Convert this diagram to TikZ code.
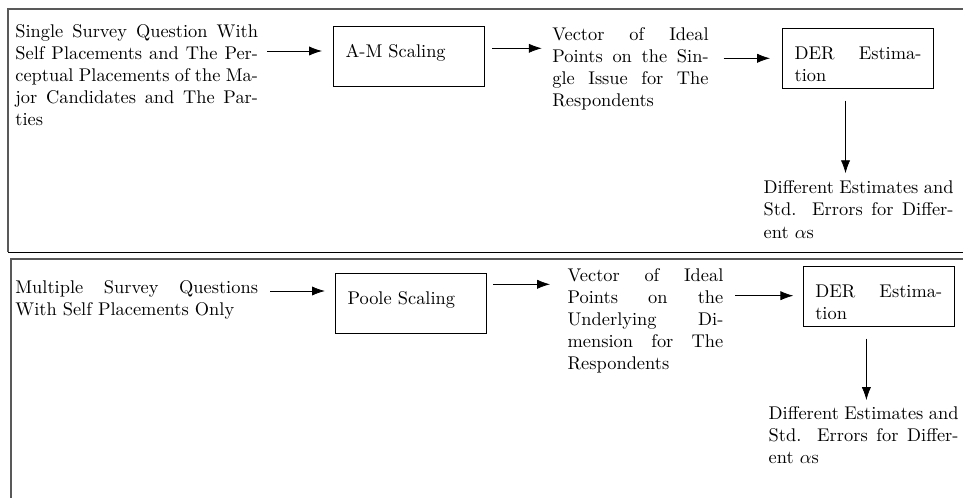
\documentclass[tikz,border=0pt]{standalone}
\usetikzlibrary{arrows.meta}
\begin{document}
\begin{tikzpicture}[x=0.544pt, y=-0.544pt,
  txt/.style={inner sep=0pt, anchor=north west, align=justify},
  procbox/.style={draw, anchor=north west, text width=69pt, inner xsep=6.65pt,
    inner ysep=0pt, text height=17pt, text depth=15.6pt, align=justify},
  arr/.style={-{Latex[length=7pt,width=5pt]}},
  panel/.style={draw=black!65, line width=1pt}]
  \useasboundingbox (0,0) rectangle (963,498);
  % panels
  \draw[panel] (975,9) -- (8,9) -- (8,252);
  \draw (8,252) -- (975,252);
  \draw[panel] (975,259) -- (11,259) -- (11,510);

  % top row
  \node[txt, text width=132pt] (lt1) at (15,24) {Single Survey Question With Self Placements and The Perceptual Placements of the Major Candidates and The Parties};
  \node[procbox] (am) at (333,26) {A-M Scaling};
  \node[txt, text width=85pt] (vec1) at (552,27.3) {Vector of Ideal Points on the Single Issue for The Respondents};
  \node[procbox] (der1) at (782,28) {DER Estimation};
  \node[txt, text width=103.3pt] (diff1) at (763.3,180.6) {Different Estimates and Std. Errors for Different $\alpha$s};

  \coordinate (r1) at (0,51);
  \coordinate (r2) at (0,48.3);
  \coordinate (r3) at (0,58.3);
  \coordinate (d1) at ([xshift=-6.8pt]der1.south);
  \draw[arr, shorten <=4.9pt, shorten >=6pt] (lt1.east |- r1) -- (am.west |- r1);
  \draw[arr, shorten <=3.8pt, shorten >=5.6pt] (am.east |- r2) -- (vec1.west |- r2);
  \draw[arr, shorten <=8pt, shorten >=6.5pt] (vec1.east |- r3) -- (der1.west |- r3);
  \draw[arr, shorten <=6.5pt, shorten >=4pt] (d1) -- (d1 |- diff1.north);

  % bottom row
  \node[txt, text width=132pt] (lt2) at (15,280.6) {Multiple Survey Questions With Self Placements Only};
  \node[procbox] (poole) at (335,272.7) {Poole Scaling};
  \node[txt, text width=84.7pt] (vec2) at (567.3,268.3) {Vector of Ideal Points on the Underlying Dimension for The Respondents};
  \node[procbox] (der2) at (802.7,266) {DER Estimation};
  \node[txt, text width=103.3pt] (diff2) at (768.3,406.3) {Different Estimates and Std. Errors for Different $\alpha$s};

  \coordinate (r4) at (0,291);
  \coordinate (r5) at (0,284.3);
  \coordinate (r6) at (0,295.7);
  \coordinate (d2) at ([xshift=-6.7pt]der2.south);
  \draw[arr, shorten <=6.5pt, shorten >=5.5pt] (lt2.east |- r4) -- (poole.west |- r4);
  \draw[arr, shorten <=3.3pt, shorten >=9.4pt] (poole.east |- r5) -- (vec2.west |- r5);
  \draw[arr, shorten <=6.2pt, shorten >=5.1pt] (vec2.east |- r6) -- (der2.west |- r6);
  \draw[arr, shorten <=6.5pt, shorten >=3.4pt] (d2) -- (d2 |- diff2.north);
\end{tikzpicture}
\end{document}
